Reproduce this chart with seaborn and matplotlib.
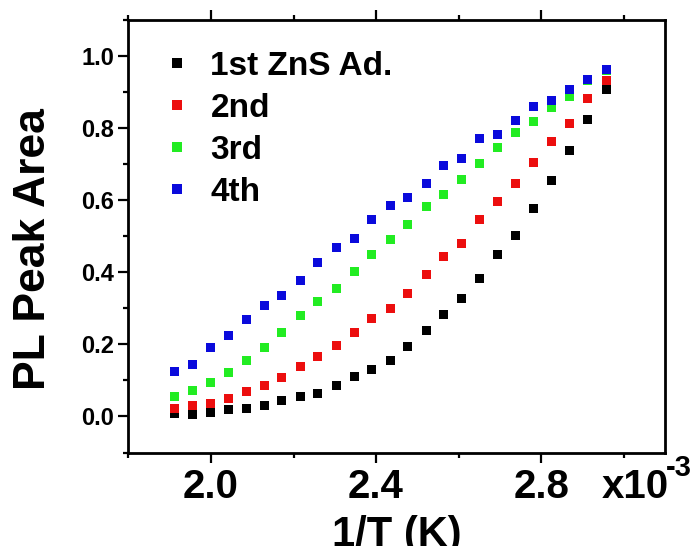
import matplotlib
matplotlib.use("Agg")
import matplotlib.pyplot as plt
from matplotlib.ticker import MultipleLocator, FormatStrFormatter
import seaborn as sns
import pandas as pd

# ---- data (x in units of 1e-3 1/K) ----
inv_T = [1.911, 1.955, 1.998, 2.042, 2.085, 2.129, 2.172, 2.216, 2.259, 2.303,
         2.347, 2.390, 2.434, 2.477, 2.521, 2.564, 2.608, 2.651, 2.695, 2.738,
         2.782, 2.826, 2.869, 2.913, 2.958]
first = [0.009, 0.005, 0.012, 0.019, 0.021, 0.031, 0.044, 0.055, 0.065, 0.086,
         0.110, 0.131, 0.154, 0.193, 0.238, 0.282, 0.328, 0.382, 0.449, 0.503,
         0.576, 0.654, 0.738, 0.824, 0.907]
second = [0.021, 0.030, 0.037, 0.051, 0.069, 0.085, 0.108, 0.139, 0.166, 0.196,
          0.233, 0.273, 0.299, 0.341, 0.393, 0.445, 0.480, 0.546, 0.597, 0.646,
          0.706, 0.763, 0.812, 0.883, 0.933]
third = [0.056, 0.073, 0.094, 0.123, 0.155, 0.192, 0.233, 0.279, 0.318, 0.355,
         0.403, 0.449, 0.491, 0.533, 0.582, 0.615, 0.658, 0.703, 0.746, 0.788,
         0.818, 0.857, 0.889, 0.932, 0.960]
fourth = [0.124, 0.144, 0.192, 0.225, 0.269, 0.309, 0.335, 0.377, 0.428, 0.468,
          0.494, 0.546, 0.586, 0.607, 0.646, 0.697, 0.716, 0.771, 0.783, 0.822,
          0.859, 0.876, 0.906, 0.934, 0.962]
series_names = ["1st ZnS Ad.", "2nd", "3rd", "4th"]
colors = ["#000000", "#ec0e0e", "#22ec22", "#0a0adc"]

rows = []
for name, vals in zip(series_names, [first, second, third, fourth]):
    for xv, yv in zip(inv_T, vals):
        rows.append({"x": xv, "y": yv, "series": name})
df = pd.DataFrame(rows)

sns.set_style("white")
plt.rcParams["font.family"] = ["Liberation Sans", "DejaVu Sans"]
plt.rcParams["font.weight"] = "bold"
plt.rcParams["text.color"] = "black"
plt.rcParams["axes.labelcolor"] = "black"
plt.rcParams["xtick.color"] = "black"
plt.rcParams["ytick.color"] = "black"

fig = plt.figure(figsize=(6.96, 5.46), dpi=100)
W, H = 696, 546
ax = fig.add_axes([128.4 / W, 1 - 452.5 / H, (665 - 128.4) / W, (452.5 - 20) / H])

sns.scatterplot(data=df, x="x", y="y", hue="series", hue_order=series_names,
                palette=colors, marker="s", s=42, linewidth=0, ax=ax)

ax.set_xlim(1.8, 3.1)
ax.set_ylim(-0.1, 1.1)
ax.xaxis.set_major_locator(MultipleLocator(0.4))
ax.xaxis.set_minor_locator(MultipleLocator(0.2))
ax.yaxis.set_major_locator(MultipleLocator(0.2))
ax.yaxis.set_minor_locator(MultipleLocator(0.1))
ax.xaxis.set_major_formatter(FormatStrFormatter("%.1f"))
ax.yaxis.set_major_formatter(FormatStrFormatter("%.1f"))

for sp in ax.spines.values():
    sp.set_visible(True)
    sp.set_linewidth(2.0)
    sp.set_color("black")

XT_LEN, XT_PAD = 7.2, 4
ax.tick_params(axis="x", which="both", direction="out", top=True, bottom=True,
               color="black", width=1.6, labelcolor="black")
ax.tick_params(axis="y", which="both", direction="out", left=True, right=False,
               color="black", width=1.6, labelcolor="black")
ax.tick_params(which="major", length=XT_LEN)
ax.tick_params(which="minor", length=3.6)
ax.tick_params(axis="x", which="major", labelsize=29, pad=XT_PAD)
ax.tick_params(axis="y", which="major", labelsize=17, pad=3)
for lab in ax.get_xticklabels() + ax.get_yticklabels():
    lab.set_fontweight("bold")

ax.set_xlabel("1/T (K)", fontsize=30, fontweight="bold", color="black")
ax.xaxis.set_label_coords(0.5, (452.5 - 515) / 432.5)
ax.set_ylabel("PL Peak Area", fontsize=32, fontweight="bold", color="black")
ax.yaxis.set_label_coords((54 - 128.4) / 536.6, (452.5 - 249) / 432.5)

# scale factor text aligned with the tick labels
ax.annotate("x10", xy=((602 - 128.4) / 536.6, 0), xycoords="axes fraction",
            xytext=(0, -(XT_LEN + XT_PAD)), textcoords="offset points",
            fontsize=29, fontweight="bold", ha="left", va="top",
            color="black", annotation_clip=False)
fig.text(666 / W, 1 - 454 / H, "-3", fontsize=21, fontweight="bold",
         ha="left", va="top", color="black")

leg = ax.legend(loc="upper left", bbox_to_anchor=(0.01, 0.99), frameon=False,
                fontsize=24, handlelength=1.0, handletextpad=0.5,
                labelspacing=0.33, borderpad=0.3, markerscale=1.0)
for t in leg.get_texts():
    t.set_fontweight("bold")
    t.set_color("black")

fig.savefig("out.png", dpi=100)
